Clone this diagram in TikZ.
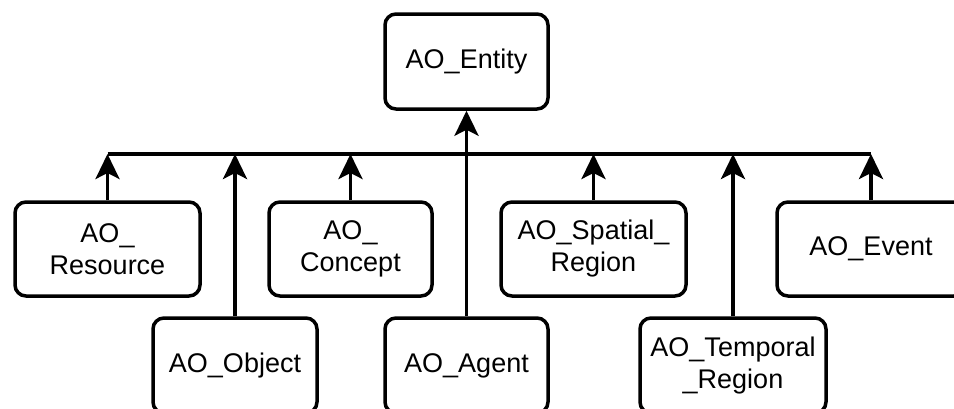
\documentclass[tikz,border=0pt]{standalone}
\usepackage{fontspec}
\setmainfont{Liberation Sans}
\usetikzlibrary{arrows.meta}
\begin{document}
\begin{tikzpicture}[x={(1pt,0)},y={(0,-1pt)},
  box/.style={draw=black,line width=3.5pt,rounded corners=11pt,fill=white,
    inner sep=0pt,align=center,font=\fontsize{27}{32}\selectfont},
  conn/.style={line width=3.5pt},
  arr/.style={line width=3.5pt,-{Stealth[length=25pt,width=24pt,inset=6pt]}}]
\useasboundingbox (0,0) rectangle (954,408);
\clip (0,0) rectangle (954,408);
\fill[white] (0,0) rectangle (954,408);
\coordinate (bus) at (0,154);
\node[box,minimum width=163pt,minimum height=95pt] (ent) at (466.5,61.5) {AO\_Entity};
\node[box,minimum width=185pt,minimum height=94pt] (res) at (107.5,249) {AO\_\\Resource};
\node[box,minimum width=163pt,minimum height=94pt] (con) at (350.5,249) {AO\_\\Concept};
\node[box,minimum width=185pt,minimum height=94pt] (spa) at (593.5,249) {AO\_Spatial\_\\Region};
\node[box,minimum width=188pt,minimum height=94pt] (evt) at (871,249) {AO\_Event};
\node[box,minimum width=164pt,minimum height=95pt] (obj) at (235,365.5) {AO\_Object};
\node[box,minimum width=163pt,minimum height=95pt] (agt) at (466.5,365.5) {AO\_Agent};
\node[box,minimum width=186pt,minimum height=95pt] (tmp) at (733,365.5) {AO\_Temporal\\\_Region};
\draw[conn] (res.north |- bus) -- (evt.north |- bus);
\draw[arr] (res.north) -- (res.north |- bus);
\draw[arr] (obj.north) -- (obj.north |- bus);
\draw[arr] (con.north) -- (con.north |- bus);
\draw[arr] (agt.north) -- (ent.south);
\draw[arr] (spa.north) -- (spa.north |- bus);
\draw[arr] (tmp.north) -- (tmp.north |- bus);
\draw[arr] (evt.north) -- (evt.north |- bus);
\end{tikzpicture}
\end{document}
